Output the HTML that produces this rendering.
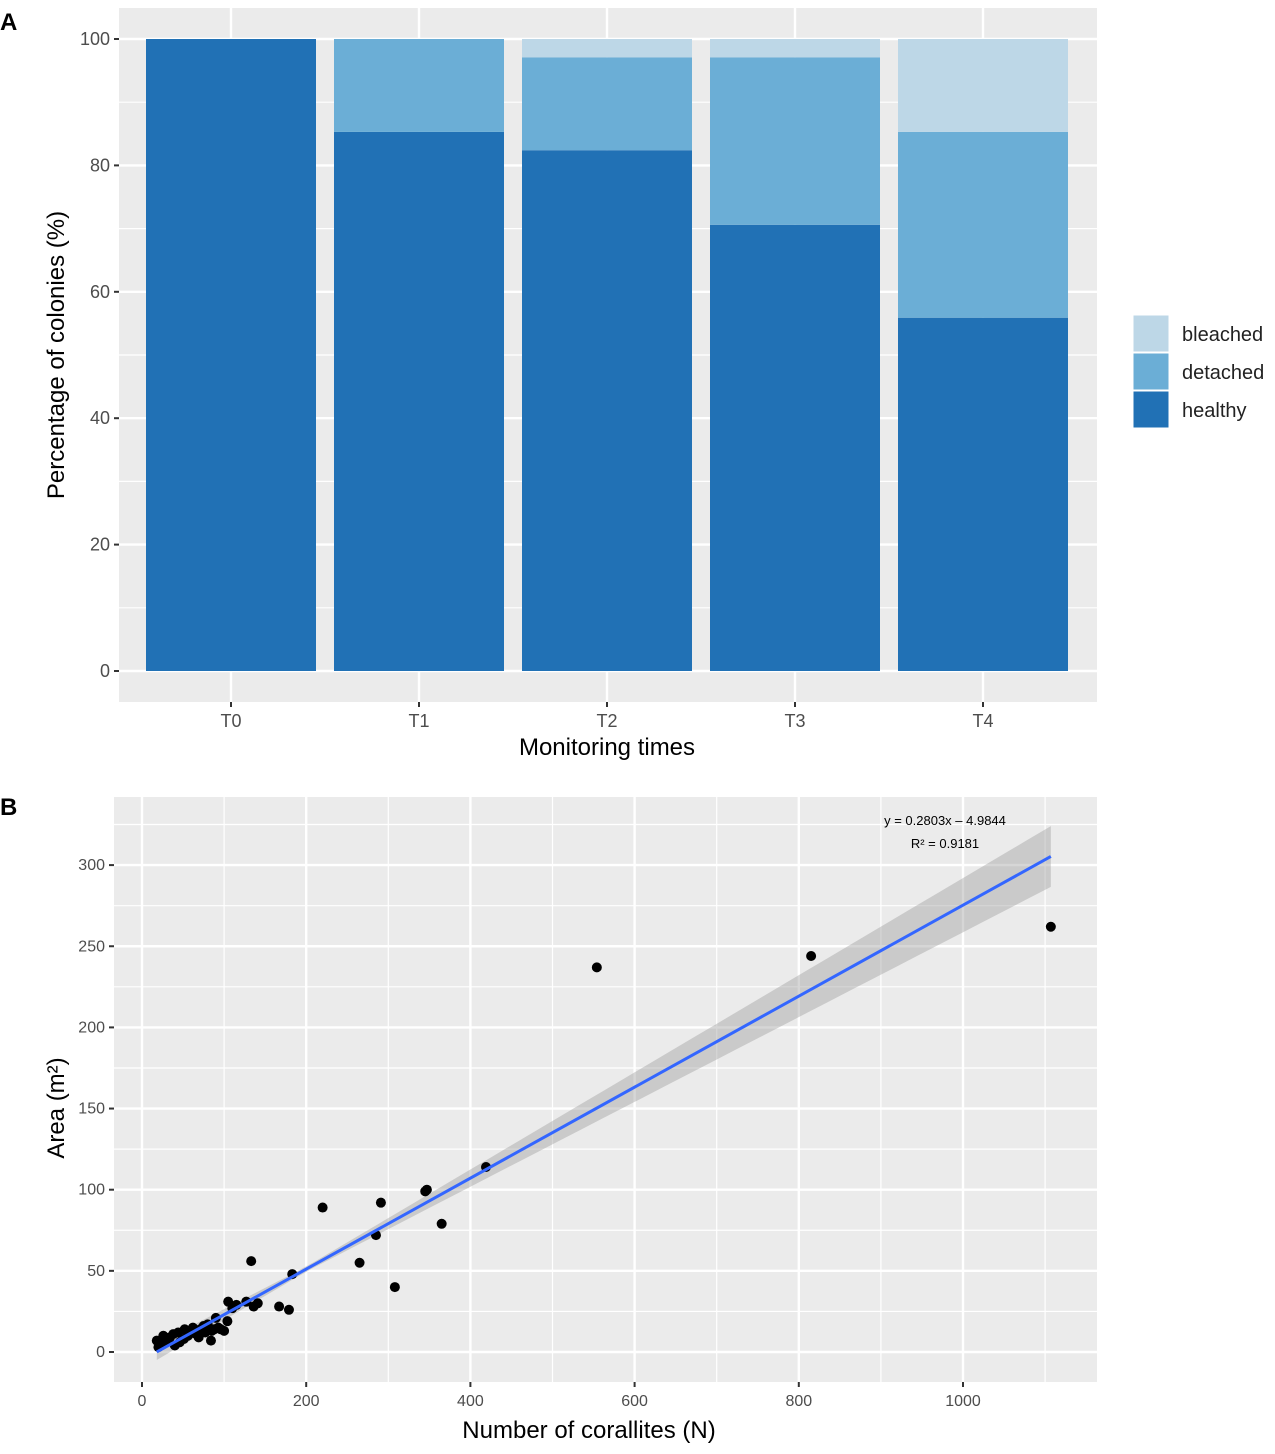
<!DOCTYPE html>
<html><head><meta charset="utf-8">
<style>
body{margin:0;background:#fff;width:1275px;height:1449px;overflow:hidden;font-family:"Liberation Sans",Arial,sans-serif;}
svg text{font-family:"Liberation Sans",Arial,sans-serif;}
</style></head>
<body>
<svg id="svg" width="1275" height="1449" xmlns="http://www.w3.org/2000/svg">
<text x="0" y="30" font-size="24" font-weight="bold">A</text>
<text x="0" y="815" font-size="24" font-weight="bold">B</text>
<g id="ga"></g>
<g id="gb"></g>
</svg>
<script>
// ---- Chart A data ----
const timeCategories = ["T0","T1","T2","T3","T4"];
const healthyValues = [100, 85.3, 82.4, 70.6, 55.9];
const detachedValues = [0, 14.7, 14.7, 26.5, 29.4];
const bleachedValues = [0, 0, 2.9, 2.9, 14.7];
const yTicksA = [0,20,40,60,80,100];
// ---- Chart B data ----
const corallitesX = [554,815,1107,419,347,345,291,220,365,285,265,308,133,183,179,167,136,141,127,105,115,104,96,84,90,
 18,20,26,40,44,52,62,71,77,46,34,56,66,80,88,22,29,51,69,93,30,38,60,75,85,100,110];
const areaY = [237,244,262,114,100,99,92,89,79,72,55,40,56,48,26,28,28,30,31,31,29,19,14,7,21,
 7,3,10,4,12,14,15,14,12,6,9,10,11,17,14,5,6,8,9,15,8,11,13,16,13,13,27];
const xTicksB = [0,200,400,600,800,1000];
const yTicksB = [0,50,100,150,200,250,300];
const slope = 0.2803, intercept = -4.9844;

const NS="http://www.w3.org/2000/svg";
function mk(parent,tag,attrs){const e=document.createElementNS(NS,tag);for(const k in attrs)e.setAttribute(k,attrs[k]);parent.appendChild(e);return e;}

// ===== Chart A =====
const ga=document.getElementById('ga');
const A={l:119,r:1097,t:8,b:702};
const ya=v=>671-v*6.32;
const xa=i=>231+i*188;
let r=mk(ga,'rect',{x:A.l,y:A.t,width:A.r-A.l,height:A.b-A.t,fill:'#ebebeb'});


for(let v=10;v<=110;v+=20){if(ya(v)>A.t)mk(ga,'line',{x1:A.l,x2:A.r,y1:ya(v),y2:ya(v),stroke:'#fff','stroke-width':1.2});}
yTicksA.forEach(v=>{
 mk(ga,'line',{x1:A.l,x2:A.r,y1:ya(v),y2:ya(v),stroke:'#fff','stroke-width':2.4});
 mk(ga,'line',{x1:A.l-5,x2:A.l,y1:ya(v),y2:ya(v),stroke:'#333','stroke-width':2});
 const t=mk(ga,'text',{x:A.l-9,y:ya(v)+6,'text-anchor':'end','font-size':18,fill:'#4d4d4d'});t.textContent=v;
 
 
});
timeCategories.forEach((c,i)=>{
 mk(ga,'line',{x1:xa(i),x2:xa(i),y1:A.t,y2:A.b,stroke:'#fff','stroke-width':2.4});
 mk(ga,'line',{x1:xa(i),x2:xa(i),y1:A.b,y2:A.b+5,stroke:'#333','stroke-width':2});
 const t=mk(ga,'text',{x:xa(i),y:A.b+25,'text-anchor':'middle','font-size':18,fill:'#4d4d4d'});t.textContent=c;
 
 
});
const colors={healthy:'#2171b5',detached:'#6baed6',bleached:'#bdd7e7'};
timeCategories.forEach((c,i)=>{
 const h=healthyValues[i],d=detachedValues[i],b=bleachedValues[i];
 const segs=[['healthy',0,h],['detached',h,h+d],['bleached',h+d,h+d+b]];
 segs.forEach(([n,a,z])=>{if(z-a<=0)return;
  const e=mk(ga,'rect',{x:xa(i)-85,y:ya(z),width:170,height:ya(a)-ya(z),fill:colors[n]});
  
  
 });
});
let t=mk(ga,'text',{x:607,y:755,'text-anchor':'middle','font-size':24,fill:'#000'});t.textContent='Monitoring times';


t=mk(ga,'text',{x:0,y:0,'text-anchor':'middle','font-size':24,fill:'#000',transform:'translate(64,355) rotate(-90)'});t.textContent='Percentage of colonies (%)';


[['bleached',315],['detached',353],['healthy',391]].forEach(([n,y])=>{
 const k=mk(ga,'rect',{x:1133,y:y,width:36,height:37,fill:colors[n],stroke:'#fff','stroke-width':1});
 
 
 const tt=mk(ga,'text',{x:1182,y:y+26,'font-size':20,fill:'#222'});tt.textContent=n;
 
 
});

// ===== Chart B =====
const gb=document.getElementById('gb');
const B={l:114,r:1097,t:797,b:1382};
const xb=v=>142+v*0.821;
const yb=v=>1352-v*1.623;
r=mk(gb,'rect',{x:B.l,y:B.t,width:B.r-B.l,height:B.b-B.t,fill:'#ebebeb'});


for(let v=-100;v<=1300;v+=200){const X=xb(v);if(X>B.l&&X<B.r)mk(gb,'line',{x1:X,x2:X,y1:B.t,y2:B.b,stroke:'#fff','stroke-width':1.2});}
for(let v=-25;v<=350;v+=50){const Y=yb(v);if(Y>B.t&&Y<B.b)mk(gb,'line',{x1:B.l,x2:B.r,y1:Y,y2:Y,stroke:'#fff','stroke-width':1.2});}
xTicksB.forEach(v=>{
 mk(gb,'line',{x1:xb(v),x2:xb(v),y1:B.t,y2:B.b,stroke:'#fff','stroke-width':2.4});
 mk(gb,'line',{x1:xb(v),x2:xb(v),y1:B.b,y2:B.b+5,stroke:'#333','stroke-width':2});
 const tt=mk(gb,'text',{x:xb(v),y:B.b+24,'text-anchor':'middle','font-size':16,fill:'#4d4d4d'});tt.textContent=v;
 
 
});
yTicksB.forEach(v=>{
 mk(gb,'line',{x1:B.l,x2:B.r,y1:yb(v),y2:yb(v),stroke:'#fff','stroke-width':2.4});
 mk(gb,'line',{x1:B.l-5,x2:B.l,y1:yb(v),y2:yb(v),stroke:'#333','stroke-width':2});
 const tt=mk(gb,'text',{x:B.l-9,y:yb(v)+5,'text-anchor':'end','font-size':16,fill:'#4d4d4d'});tt.textContent=v;
 
 
});
const x0=Math.min(...corallitesX), x1=Math.max(...corallitesX);
const hw=x=>1.5+0.019*Math.abs(x-200);
let up=[],dn=[];
for(let i=0;i<=40;i++){const x=x0+(x1-x0)*i/40;const y=slope*x+intercept;up.push(xb(x)+','+yb(y+hw(x)));dn.unshift(xb(x)+','+yb(y-hw(x)));}
const band=mk(gb,'polygon',{points:up.concat(dn).join(' '),fill:'#999','fill-opacity':0.4});


corallitesX.forEach((x,i)=>{
 const c=mk(gb,'circle',{cx:xb(x),cy:yb(areaY[i]),r:5,fill:'#000'});
 
 
});
const ln=mk(gb,'line',{x1:xb(x0),y1:yb(slope*x0+intercept),x2:xb(x1),y2:yb(slope*x1+intercept),stroke:'#3366ff','stroke-width':3});


t=mk(gb,'text',{x:945,y:825,'text-anchor':'middle','font-size':13,fill:'#000'});t.textContent='y = 0.2803x – 4.9844';


t=mk(gb,'text',{x:945,y:848,'text-anchor':'middle','font-size':13,fill:'#000'});t.textContent='R² = 0.9181';


t=mk(gb,'text',{x:589,y:1438,'text-anchor':'middle','font-size':24,fill:'#000'});t.textContent='Number of corallites (N)';


t=mk(gb,'text',{x:0,y:0,'text-anchor':'middle','font-size':24,fill:'#000',transform:'translate(64,1108) rotate(-90)'});t.textContent='Area (m²)';


</script>
</body></html>
